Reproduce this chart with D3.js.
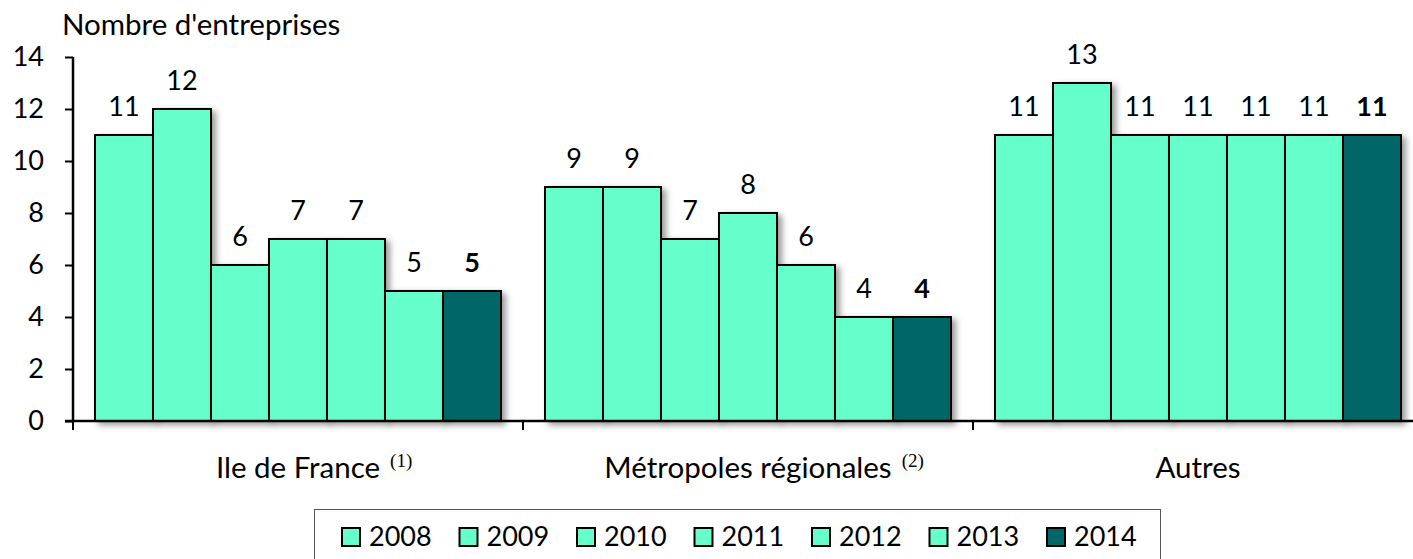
<!DOCTYPE html>
<html><head><meta charset="utf-8">
<script src="https://cdn.jsdelivr.net/npm/d3@7"></script>
<style>body{margin:0;background:#fff}svg{display:block}text{font-family:Lato,"Open Sans",sans-serif}</style>
</head><body>
<script>
const categories = ["Ile de France", "Métropoles régionales", "Autres"];
const notes = ["(1)", "(2)", ""];
const years = ["2008", "2009", "2010", "2011", "2012", "2013", "2014"];
const values = {
  "2008": [11, 9, 11],
  "2009": [12, 9, 13],
  "2010": [6, 7, 11],
  "2011": [7, 8, 11],
  "2012": [7, 6, 11],
  "2013": [5, 4, 11],
  "2014": [5, 4, 11]
};
const yTicks = [0, 2, 4, 6, 8, 10, 12, 14];
const yTitle = "Nombre d'entreprises";

const W = 1413, H = 559;
const light = "#66FFCC", dark = "#006666";
const svg = d3.select("body").append("svg").attr("width", W).attr("height", H);
const defs = svg.append("defs");
const f = defs.append("filter").attr("id", "sh").attr("x", "-20%").attr("y", "-20%").attr("width", "160%").attr("height", "140%");
f.append("feDropShadow").attr("dx", 4).attr("dy", 3).attr("stdDeviation", 3).attr("flood-color", "#000").attr("flood-opacity", 0.4);

const x0 = 73, groupW = 450;
const x = d3.scaleBand().domain(categories).range([x0, x0 + groupW * 3]).padding(0);
const xi = d3.scaleBand().domain(years).range([22, 428]).padding(0);
const y = d3.scaleLinear().domain([0, 14]).range([421, 57]);

const colorOf = yr => yr === "2014" ? dark : light;

// bars
const g = svg.append("g");
categories.forEach((c, ci) => {
  years.forEach(yr => {
    const v = values[yr][ci];
    g.append("rect")
      .attr("x", x(c) + xi(yr)).attr("y", y(v))
      .attr("width", xi.bandwidth()).attr("height", y(0) - y(v))
      .attr("fill", colorOf(yr)).attr("stroke", "#000").attr("stroke-width", 2)
      .attr("filter", "url(#sh)");
  });
});
// value labels
categories.forEach((c, ci) => {
  years.forEach(yr => {
    const v = values[yr][ci];
    svg.append("text")
      .attr("x", x(c) + xi(yr) + xi.bandwidth() / 2).attr("y", y(v) - 19)
      .attr("text-anchor", "middle").attr("font-size", 27)
      .attr("font-weight", yr === "2014" ? "bold" : "normal")
      .text(v);
  });
});

// y axis
const ya = svg.append("g").attr("transform", `translate(${x0},0)`)
  .call(d3.axisLeft(y).tickValues(yTicks).tickSize(8).tickPadding(21));
ya.selectAll("path,line").attr("stroke", "#000").attr("stroke-width", 2);
ya.select(".domain").attr("d", `M0,${y(14)}V${y(0)}`).attr("stroke-width", 2.5);
ya.selectAll("text").attr("font-size", 27).attr("fill", "#000").style("font-family", "Lato,sans-serif");

// x axis
const xa = svg.append("g").attr("transform", `translate(0,${y(0)})`);
xa.append("line").attr("x1", x0 - 8).attr("x2", x0 + groupW * 3).attr("stroke", "#000").attr("stroke-width", 2.5);
[0, 1, 2, 3].forEach(i => {
  xa.append("line").attr("x1", x0 + i * groupW).attr("x2", x0 + i * groupW).attr("y1", 0).attr("y2", 9)
    .attr("stroke", "#000").attr("stroke-width", 2);
});
categories.forEach((c, ci) => {
  const cx = x(c) + x.bandwidth() / 2;
  const t = svg.append("text").attr("x", cx).attr("y", 478)
    .attr("text-anchor", "middle").attr("font-size", 29.5).text(c);
  if (notes[ci]) {
    const w = t.node().getComputedTextLength();
    svg.append("text").attr("x", cx + w / 2 + 10).attr("y", 467)
      .attr("font-size", 19).style("font-family", "'Liberation Serif',serif").text(notes[ci]);
  }
});

// y title
svg.append("text").attr("x", 62).attr("y", 35).attr("font-size", 29.5).text(yTitle);

// legend
const lg = svg.append("g");
lg.append("rect").attr("x", 314.5).attr("y", 509.5).attr("width", 846).attr("height", 60)
  .attr("fill", "#fff").attr("stroke", "#555").attr("stroke-width", 1);
years.forEach((yr, i) => {
  const lx = 342 + i * 117.5;
  lg.append("rect").attr("x", lx).attr("y", 528).attr("width", 18).attr("height", 18)
    .attr("fill", colorOf(yr)).attr("stroke", "#000").attr("stroke-width", 2);
  lg.append("text").attr("x", lx + 27).attr("y", 546).attr("font-size", 27).text(yr);
});
</script>
</body></html>
